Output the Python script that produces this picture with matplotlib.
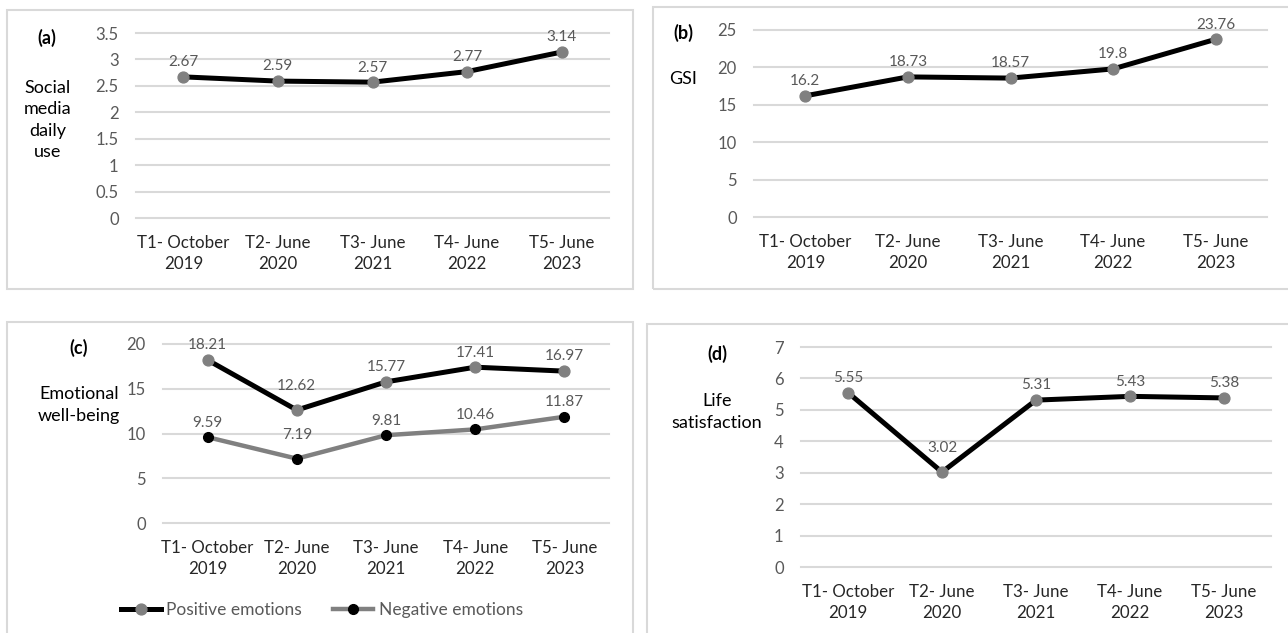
import matplotlib
matplotlib.use('Agg')
import matplotlib.pyplot as plt
import matplotlib.ticker as mticker
from matplotlib.patches import Rectangle
from matplotlib.lines import Line2D

plt.rcParams['font.family'] = ['Lato', 'DejaVu Sans']

# data
waves = ['T1- October\n2019', 'T2- June\n2020', 'T3- June\n2021', 'T4- June\n2022', 'T5- June\n2023']
social_media = [2.67, 2.59, 2.57, 2.77, 3.14]
gsi = [16.2, 18.73, 18.57, 19.8, 23.76]
positive_emotions = [18.21, 12.62, 15.77, 17.41, 16.97]
negative_emotions = [9.59, 7.19, 9.81, 10.46, 11.87]
life_satisfaction = [5.55, 3.02, 5.31, 5.43, 5.38]

W, H = 1288, 633
fig = plt.figure(figsize=(W / 100, H / 100), dpi=100)

GRID = '#d9d9d9'
GRAY = '#808080'
LABEL_GRAY = '#595959'


def px_axes(left, right, top, bottom):
    # pixel box -> figure fraction
    return fig.add_axes([left / W, 1 - bottom / H, (right - left) / W, (bottom - top) / H])


def frame(x0, y0, x1, y1):
    fig.patches.append(Rectangle((x0 / W, 1 - y1 / H), (x1 - x0) / W, (y1 - y0) / H,
                                 transform=fig.transFigure, fill=False,
                                 edgecolor=GRID, linewidth=1.5))


def ftext(x, y, s, **kw):
    fig.text(x / W, 1 - y / H, s, ha='center', va='center', **kw)


def setup(ax, ymax, step):
    ax.set_xlim(-0.5, len(waves) - 0.5)
    ax.set_ylim(0, ymax)
    ax.set_yticks([i * step for i in range(int(round(ymax / step)) + 1)])
    ax.yaxis.set_major_formatter(mticker.FormatStrFormatter('%g'))
    ax.set_xticks(range(len(waves)))
    ax.set_xticklabels(waves, fontsize=12.2, color='#262626', linespacing=1.4)
    ax.tick_params(axis='y', length=0, pad=12.5, labelsize=12, labelcolor=LABEL_GRAY)
    ax.tick_params(axis='x', length=0, pad=12)
    for s in ax.spines.values():
        s.set_visible(False)
    ax.grid(axis='y', color=GRID, linewidth=1.5)
    ax.set_axisbelow(True)
    for gl in ax.get_ygridlines():
        gl.set_clip_on(False)


def series(ax, vals, lc, mc, lw=3.6, ms=7.8, lifted=()):
    x = range(len(vals))
    ax.plot(x, vals, color=lc, linewidth=lw, marker='o', markersize=ms,
            markerfacecolor=mc, markeredgecolor=mc, solid_capstyle='round', clip_on=False)
    for i, v in enumerate(vals):
        dy = 12 if i in lifted else 5.5
        ax.annotate('%g' % v, (i, v), xytext=(0, dy), textcoords='offset points',
                    ha='center', va='bottom', fontsize=11, color=LABEL_GRAY)


# panel frames
frame(7, 10, 633, 289)
frame(653, 7, 1295, 289)
frame(7, 322, 633, 640)
frame(647, 324, 1295, 640)

# (a)
ax1 = px_axes(136, 609, 33, 218)
setup(ax1, 3.5, 0.5)
series(ax1, social_media, 'black', GRAY)
ftext(47, 38, '(a)', fontsize=13, fontweight='bold')
ftext(48, 120, 'Social\nmedia\ndaily\nuse', fontsize=13, linespacing=1.42)

# (b)
ax2 = px_axes(754, 1267, 30, 217)
setup(ax2, 25, 5)
series(ax2, gsi, 'black', GRAY)
ftext(683, 33, '(b)', fontsize=13, fontweight='bold')
ftext(683, 79, 'GSI', fontsize=13)

# (c)
ax3 = px_axes(163, 609, 344, 523)
setup(ax3, 20, 5)
series(ax3, positive_emotions, 'black', GRAY, lifted=(1,))
series(ax3, negative_emotions, GRAY, 'black', lw=3.2, ms=7, lifted=(1,))
ftext(79, 348, '(c)', fontsize=13, fontweight='bold')
ftext(79, 405, 'Emotional\nwell-being', fontsize=13, linespacing=1.42)
handles = [Line2D([], [], color='black', lw=3.6, marker='o', markersize=7.8,
                  markerfacecolor=GRAY, markeredgecolor=GRAY),
           Line2D([], [], color=GRAY, lw=3.2, marker='o', markersize=7,
                  markerfacecolor='black', markeredgecolor='black')]
fig.legend(handles, ['Positive emotions', 'Negative emotions'], loc='center',
           bbox_to_anchor=(322 / W, 1 - 610 / H), ncol=2, frameon=False,
           fontsize=12.5, handlelength=2.3, handletextpad=0.3, columnspacing=1.8,
           labelcolor=LABEL_GRAY)

# (d)
ax4 = px_axes(801, 1271, 347, 567)
setup(ax4, 7, 1)
series(ax4, life_satisfaction, 'black', GRAY, lifted=(1,))
ftext(717, 354, '(d)', fontsize=13, fontweight='bold')
ftext(717, 412, 'Life\nsatisfaction', fontsize=13, linespacing=1.42)

fig.savefig('out.png', dpi=100)
